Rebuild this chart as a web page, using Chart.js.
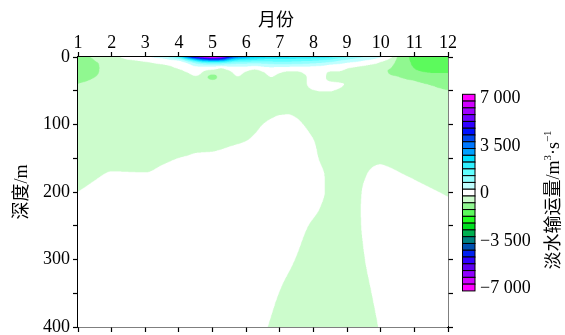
<!DOCTYPE html>
<html>
<head>
<meta charset="utf-8">
<script src="https://cdn.jsdelivr.net/npm/chart.js@4.4.0/dist/chart.umd.min.js"></script>
<style>
  html, body { margin: 0; padding: 0; background: #fff; }
  #wrap { width: 565px; height: 335px; }
</style>
</head>
<body>
<div id="wrap"><canvas id="c" width="565" height="335"></canvas></div>
<script>
// Grid nodes of the section: month columns and depth rows (m)
const monthCols = [1, 1.5, 2, 2.5, 3, 3.5, 4, 4.25, 4.5, 4.75, 5, 5.25, 5.5, 5.75, 6, 6.25, 6.5, 6.75,
                   7, 7.25, 7.5, 7.75, 8, 8.25, 8.5, 8.75, 9, 9.5, 10, 10.25, 10.5, 11, 11.5, 12];
const depthRows = [0, 3, 6, 9, 12, 16, 20, 25, 30, 35, 40, 50, 60, 75, 100, 125, 150, 175, 200, 225, 250, 300, 350, 400];

// Freshwater transport (m^3/s), one depth profile per month column
const transport = [
  /* 1    */ [-750, -760, -770, -780, -780, -770, -750, -700, -640, -570, -495, -420, -380, -340, -300, -300, -300, -200, 5, 200, 400, 400, 400, 400],
  /* 1.5  */ [-420, -470, -510, -560, -580, -590, -580, -550, -500, -450, -400, -330, -300, -300, -300, -300, -300, -64, 136, 336, 400, 400, 400, 400],
  /* 2    */ [-200, -220, -250, -270, -280, -290, -300, -300, -300, -300, -300, -300, -300, -300, -300, -300, -152, 48, 248, 400, 400, 400, 400, 400],
  /* 2.5  */ [200, 50, -100, -200, -260, -290, -300, -300, -300, -300, -300, -300, -300, -300, -300, -300, -160, 40, 240, 400, 400, 400, 400, 400],
  /* 3    */ [420, 250, 60, -80, -160, -240, -280, -300, -300, -300, -300, -300, -300, -300, -300, -300, -168, 32, 232, 400, 400, 400, 400, 400],
  /* 3.5  */ [750, 420, 260, 100, -40, -150, -220, -280, -300, -300, -300, -300, -300, -300, -300, -280, -80, 120, 320, 400, 400, 400, 400, 400],
  /* 4    */ [2000, 1000, 450, 260, 160, 60, -60, -160, -230, -280, -300, -300, -300, -300, -300, -200, 5, 200, 400, 400, 400, 400, 400, 400],
  /* 4.25 */ [3800, 2200, 1100, 520, 350, 220, 90, -50, -150, -220, -260, -300, -300, -300, -300, -168, 32, 232, 400, 400, 400, 400, 400, 400],
  /* 4.5  */ [5600, 3400, 2000, 1100, 650, 380, 250, 100, -60, -160, -230, -300, -300, -300, -300, -136, 64, 264, 400, 400, 400, 400, 400, 400],
  /* 4.75 */ [6700, 4400, 2700, 1500, 850, 300, 40, -120, -250, -240, -250, -300, -300, -300, -300, -128, 72, 272, 400, 400, 400, 400, 400, 400],
  /* 5    */ [7300, 4800, 2900, 1600, 900, 300, -100, -420, -800, -420, -280, -300, -300, -300, -300, -120, 80, 280, 400, 400, 400, 400, 400, 400],
  /* 5.25 */ [6800, 4600, 2800, 1550, 850, 80, -180, -300, -250, -280, -300, -300, -300, -300, -300, -96, 104, 304, 400, 400, 400, 400, 400, 400],
  /* 5.5  */ [4800, 3300, 2200, 1350, 800, 330, 10, -150, -230, -270, -300, -300, -300, -300, -300, -64, 136, 336, 400, 400, 400, 400, 400, 400],
  /* 5.75 */ [3600, 2600, 1800, 1150, 750, 400, 260, 100, -30, -150, -220, -300, -300, -300, -232, -32, 168, 368, 400, 400, 400, 400, 400, 400],
  /* 6    */ [3200, 2400, 1700, 1100, 720, 350, 60, -100, -200, -250, -280, -300, -300, -300, -200, 5, 200, 400, 400, 400, 400, 400, 400, 259],
  /* 6.25 */ [2900, 2200, 1600, 1050, 700, 150, -60, -180, -250, -280, -300, -300, -300, -300, -112, 88, 288, 400, 400, 400, 400, 400, 400, 158],
  /* 6.5  */ [2700, 2050, 1550, 1100, 720, 380, 80, -80, -170, -230, -260, -300, -300, -200, 5, 200, 400, 400, 400, 400, 400, 400, 190, 57],
  /* 6.75 */ [2600, 2000, 1580, 1200, 800, 440, 260, 120, -5, -100, -170, -240, -250, -128, 72, 272, 400, 400, 400, 400, 400, 283, 89, -44],
  /* 7    */ [2600, 2000, 1620, 1250, 850, 380, 120, -30, -150, -220, -260, -288, -208, -88, 112, 312, 400, 400, 400, 400, 400, 180, -12, -145],
  /* 7.25 */ [2550, 1980, 1600, 1230, 830, 350, 40, -80, -170, -230, -260, -280, -200, -80, 120, 320, 400, 400, 400, 400, 240, 80, -113, -246],
  /* 7.5  */ [2500, 1950, 1550, 1180, 800, 330, 40, -80, -170, -230, -260, -290, -240, -120, 70, 214, 263, 330, 335, 275, 141, -20, -214, -347],
  /* 7.75 */ [2450, 1900, 1500, 1120, 760, 360, 130, 15, -35, -35, -40, -100, -180, -200, -20, 113, 162, 230, 234, 174, 40, -121, -315, -400],
  /* 8    */ [2400, 1850, 1450, 1050, 640, 380, 260, 190, 150, 130, 100, -10, -90, -200, -121, 12, 61, 129, 133, 73, -61, -222, -300, -300],
  /* 8.25 */ [2300, 1750, 1350, 950, 580, 330, 220, 150, 110, 80, 80, 10, -100, -220, -222, -89, -40, 28, 32, -28, -162, -300, -300, -300],
  /* 8.5  */ [2100, 1600, 1200, 800, 450, 260, 60, -100, -120, -30, 100, 10, -120, -300, -300, -190, -141, -61, -61, -129, -263, -300, -300, -300],
  /* 8.75 */ [1800, 1350, 950, 620, 380, 200, 40, -100, -160, -100, 60, -40, -200, -300, -300, -300, -240, -162, -162, -230, -300, -300, -300, -300],
  /* 9    */ [1500, 1100, 760, 470, 270, 40, -60, -150, -200, -180, -40, -150, -250, -300, -300, -300, -300, -275, -182, -162, -170, -214, -295, -300],
  /* 9.5  */ [1000, 720, 450, 260, 50, -100, -180, -240, -280, -300, -300, -300, -300, -300, -300, -280, -150, -30, 30, 40, 32, -12, -93, -170],
  /* 10   */ [540, 320, 80, -60, -150, -220, -380, -420, -400, -380, -350, -320, -300, -300, -300, -300, -80, 120, 222, 242, 234, 190, 109, 32],
  /* 10.25*/ [250, -10, -150, -280, -380, -460, -520, -500, -470, -440, -410, -360, -320, -300, -300, -300, -104, 96, 296, 343, 343, 300, 200, 133],
  /* 10.5 */ [-520, -560, -600, -620, -630, -620, -580, -540, -490, -450, -420, -370, -330, -300, -300, -300, -152, 48, 248, 400, 400, 400, 300, 234],
  /* 11   */ [-1120, -1110, -1090, -1070, -1050, -1010, -960, -800, -640, -505, -450, -380, -340, -300, -300, -300, -300, -56, 144, 344, 400, 400, 400, 400],
  /* 11.5 */ [-1300, -1300, -1290, -1270, -1240, -1180, -1090, -960, -820, -680, -530, -430, -380, -330, -300, -300, -300, -152, 48, 248, 400, 400, 400, 400],
  /* 12   */ [-1350, -1350, -1330, -1300, -1260, -1190, -1100, -970, -880, -780, -680, -490, -420, -360, -320, -300, -300, -256, -56, 144, 344, 400, 400, 400]
];

// Contour levels: step 500 from -7000 to 7000, colours listed from -7000 upward
const levelStep = 500;
const levelMin = -7000;
const levelColors = [
  '#ff00ff', '#d000ff', '#9000ff', '#6000f0', '#3000ff', '#0020f0', '#0050b0', '#008080',
  '#00b050', '#00e020', '#20ff20', '#5cfa5c', '#90f890', '#ccfccc',
  '#ffffff',
  '#c0ffff', '#90ffff', '#60ffff', '#30f0ff', '#00e0ff', '#00a0ff', '#0078ff', '#0048f0',
  '#0010ff', '#3000ff', '#7000ff', '#a000ff', '#d000ff', '#ff00ff'
];
const colorbarLabels = [7000, 3500, 0, -3500, -7000];
const monthTicks = [1, 2, 3, 4, 5, 6, 7, 8, 9, 10, 11, 12];
const depthTicks = [0, 50, 100, 150, 200, 250, 300, 350, 400];

const SERIF = '"Liberation Serif", "Times New Roman", "Noto Sans CJK SC", serif';
const CJK = '"Noto Sans CJK SC", "Liberation Serif", sans-serif';

function hexToRgb(h) {
  return [parseInt(h.slice(1, 3), 16), parseInt(h.slice(3, 5), 16), parseInt(h.slice(5, 7), 16)];
}
const levelRgb = levelColors.map(hexToRgb);

function levelIndex(v) {
  let k = Math.floor((v - levelMin) / levelStep);
  if (k < 0) k = 0;
  if (k > levelColors.length - 1) k = levelColors.length - 1;
  return k;
}

function locate(arr, v) {
  let j = 0;
  while (j < arr.length - 2 && v > arr[j + 1]) j++;
  let t = (v - arr[j]) / (arr[j + 1] - arr[j]);
  t = Math.max(0, Math.min(1, t));
  return [j, t];
}

// Shape-preserving (monotone) cubic tangents, so the contours stay smooth without overshoot
function pchipSlopes(xs, ys) {
  const n = xs.length, s = new Array(n).fill(0);
  const h = [], d = [];
  for (let i = 0; i < n - 1; i++) { h.push(xs[i + 1] - xs[i]); d.push((ys[i + 1] - ys[i]) / h[i]); }
  s[0] = d[0]; s[n - 1] = d[n - 2];
  for (let i = 1; i < n - 1; i++) {
    if (d[i - 1] * d[i] <= 0) { s[i] = 0; continue; }
    const w1 = 2 * h[i] + h[i - 1], w2 = h[i] + 2 * h[i - 1];
    s[i] = (w1 + w2) / (w1 / d[i - 1] + w2 / d[i]);
  }
  return s;
}
function hermite(x0, x1, y0, y1, s0, s1, t) {
  const h = x1 - x0, t2 = t * t, t3 = t2 * t;
  return (2 * t3 - 3 * t2 + 1) * y0 + (t3 - 2 * t2 + t) * h * s0 + (-2 * t3 + 3 * t2) * y1 + (t3 - t2) * h * s1;
}

function fmtLabel(v) {
  const s = Math.abs(v).toString();
  const body = s.length > 3 ? s.slice(0, s.length - 3) + ' ' + s.slice(s.length - 3) : s;
  return (v < 0 ? '\u2212' : '') + body;
}

// Filled contour field, sampled through the chart scales
const fieldPlugin = {
  id: 'field',
  beforeDatasetsDraw(chart) {
    const { ctx, chartArea: a, scales } = chart;
    const xs = scales.x, ys = scales.y;
    const S = 3;
    const w = Math.round(a.right - a.left), h = Math.round(a.bottom - a.top);
    const W = w * S, H = h * S;
    const nR = depthRows.length;

    // tangents along the month direction for every depth row
    const rowSlopes = [];
    for (let k = 0; k < nR; k++) rowSlopes.push(pchipSlopes(monthCols, transport.map(p => p[k])));

    // profile (and its depth tangents) at every sampled x
    const prof = new Float32Array(W * nR), pslope = new Float32Array(W * nR);
    for (let i = 0; i < W; i++) {
      const m = xs.getValueForPixel(a.left + (i + 0.5) / S);
      const [j, u] = locate(monthCols, m);
      const col = [];
      for (let k = 0; k < nR; k++) {
        col.push(hermite(monthCols[j], monthCols[j + 1], transport[j][k], transport[j + 1][k],
                         rowSlopes[k][j], rowSlopes[k][j + 1], u));
      }
      const sl = pchipSlopes(depthRows, col);
      for (let k = 0; k < nR; k++) { prof[i * nR + k] = col[k]; pslope[i * nR + k] = sl[k]; }
    }

    const off = document.createElement('canvas');
    off.width = W; off.height = H;
    const octx = off.getContext('2d');
    const img = octx.createImageData(W, H);
    const d = img.data;
    for (let r = 0; r < H; r++) {
      const z = ys.getValueForPixel(a.top + (r + 0.5) / S);
      const [k, t] = locate(depthRows, z);
      const z0 = depthRows[k], z1 = depthRows[k + 1];
      for (let i = 0; i < W; i++) {
        const b = i * nR + k;
        const v = hermite(z0, z1, prof[b], prof[b + 1], pslope[b], pslope[b + 1], t);
        const c = levelRgb[levelIndex(v)];
        const o = (r * W + i) * 4;
        d[o] = c[0]; d[o + 1] = c[1]; d[o + 2] = c[2]; d[o + 3] = 255;
      }
    }
    octx.putImageData(img, 0, 0);
    ctx.save();
    ctx.imageSmoothingEnabled = true;
    ctx.imageSmoothingQuality = 'high';
    ctx.drawImage(off, a.left, a.top, a.right - a.left, a.bottom - a.top);
    ctx.restore();
  }
};

// Axis title on top and the colour bar with its labels
const decorPlugin = {
  id: 'decor',
  afterDraw(chart) {
    const { ctx, chartArea: a } = chart;
    ctx.save();
    ctx.fillStyle = '#000';
    ctx.font = '18px ' + CJK;
    ctx.textAlign = 'center';
    ctx.textBaseline = 'middle';
    ctx.fillText('月份', (a.left + a.right) / 2 + 13, 19);

    // colour bar
    const n = levelColors.length;
    const bx = a.right + 14.5, bw = 12.5;
    const by = a.top + 37.3, bh = 6.78;
    ctx.lineWidth = 1;
    ctx.strokeStyle = '#000';
    for (let i = 0; i < n; i++) {
      const k = n - 1 - i;
      ctx.fillStyle = levelColors[k];
      ctx.fillRect(bx, by + i * bh, bw, bh);
      ctx.strokeRect(bx, by + i * bh, bw, bh);
    }
    ctx.fillStyle = '#000';
    ctx.font = '18px ' + SERIF;
    ctx.textAlign = 'left';
    ctx.textBaseline = 'middle';
    colorbarLabels.forEach(v => {
      const i = n - 1 - levelIndex(v);
      ctx.fillText(fmtLabel(v), bx + bw + 5, by + (i + 0.5) * bh + 1);
    });

    // colour bar title, rotated
    ctx.translate(554, 200);
    ctx.rotate(-Math.PI / 2);
    const parts = [
      ['淡水输运量/m', '18px ' + SERIF, 0],
      ['3', '11px ' + SERIF, -6],
      ['\u00b7s', '18px ' + SERIF, 0],
      ['\u22121', '11px ' + SERIF, -6]
    ];
    let total = 0;
    parts.forEach(p => { ctx.font = p[1]; total += ctx.measureText(p[0]).width; });
    let xx = -total / 2;
    ctx.textAlign = 'left';
    parts.forEach(p => {
      ctx.font = p[1];
      ctx.fillText(p[0], xx, p[2]);
      xx += ctx.measureText(p[0]).width;
    });
    ctx.restore();
  }
};

const tickGrid = { drawOnChartArea: false, drawTicks: true, tickLength: 5, tickWidth: 1.2, tickColor: '#000' };
const axisBorder = { display: true, color: '#000', width: 1.5 };
const noOverhangV = s => { s.paddingTop = 0; s.paddingBottom = 0; };
const noOverhangH = s => { s.paddingLeft = 0; s.paddingRight = 0; };

new Chart(document.getElementById('c'), {
  type: 'scatter',
  data: { datasets: [{ data: [], pointRadius: 0 }] },
  options: {
    responsive: false,
    animation: false,
    devicePixelRatio: 1,
    layout: { padding: { left: 0, right: 111, top: 0, bottom: 2 } },
    plugins: { legend: { display: false }, tooltip: { enabled: false } },
    scales: {
      x: {
        type: 'linear', position: 'top', min: 1, max: 12, z: 1,
        afterBuildTicks: s => { s.ticks = monthTicks.map(v => ({ value: v })); },
        ticks: { font: { family: SERIF, size: 18 }, color: '#000', padding: -2, maxRotation: 0, autoSkip: false },
        grid: tickGrid, border: axisBorder,
        afterFit: s => { s.height = 57; noOverhangH(s); }
      },
      x2: {
        type: 'linear', position: 'bottom', min: 1, max: 12, z: 1,
        afterBuildTicks: s => { s.ticks = monthTicks.map(v => ({ value: v })); },
        ticks: { display: false },
        grid: tickGrid, border: axisBorder,
        afterFit: s => { s.height = 6; noOverhangH(s); }
      },
      y: {
        type: 'linear', position: 'left', min: 0, max: 400, reverse: true, z: 1,
        afterBuildTicks: s => { s.ticks = depthTicks.map(v => ({ value: v })); },
        ticks: { font: { family: SERIF, size: 18 }, color: '#000', padding: 3, autoSkip: false,
                 callback: v => (v % 100 === 0 ? String(v) : '') },
        grid: tickGrid, border: axisBorder,
        title: { display: true, text: '深度/m', color: '#000', font: { family: SERIF, size: 18 }, padding: { top: 11, bottom: 0 } },
        afterFit: s => { s.width = 78; noOverhangV(s); }
      },
      y2: {
        type: 'linear', position: 'right', min: 0, max: 400, reverse: true, z: 1,
        afterBuildTicks: s => { s.ticks = depthTicks.map(v => ({ value: v })); },
        ticks: { display: false },
        grid: tickGrid, border: axisBorder,
        afterFit: s => { s.width = 6; noOverhangV(s); }
      }
    }
  },
  plugins: [fieldPlugin, decorPlugin]
});
</script>
</body>
</html>
